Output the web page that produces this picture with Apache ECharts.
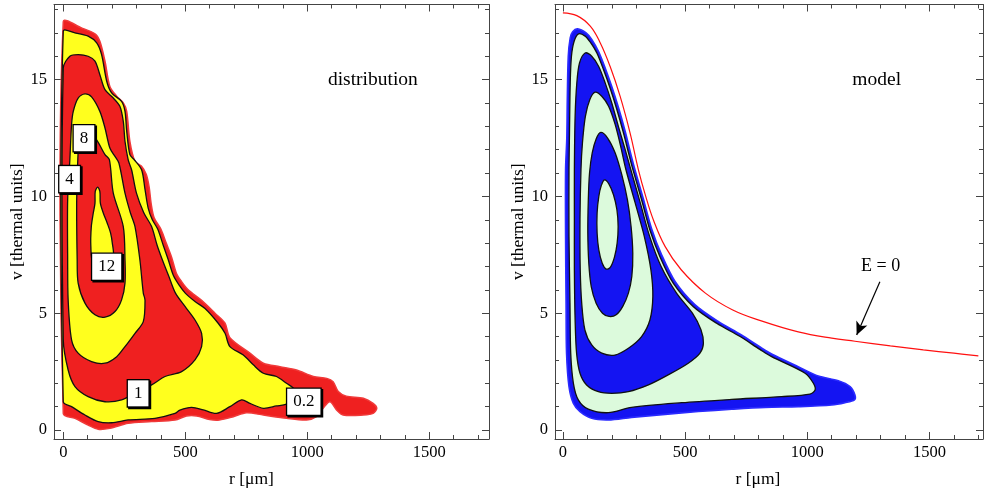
<!DOCTYPE html>
<html><head><meta charset="utf-8">
<script src="https://cdn.jsdelivr.net/npm/echarts@6/dist/echarts.min.js"></script>
<style>html,body{margin:0;padding:0;background:#fff}#c{width:984px;height:496px}</style>
</head><body><div id="c"></div>
<script>
// ---------- tick values ----------
const rTicks = [0, 500, 1000, 1500];
const rMinor = [100, 200, 300, 400, 600, 700, 800, 900, 1100, 1200, 1300, 1400, 1600, 1700];
const vTicks = [0, 5, 10, 15];
const vMinor = [1, 2, 3, 4, 6, 7, 8, 9, 11, 12, 13, 14, 16, 17, 18];

// ---------- left panel: measured distribution contours [r (µm), v] ----------
const distOuter = [[0,17.47],[75,17.21],[130,16.96],[150,16.64],[171,15.79],[191,14.71],[219,14.29],[246,14.0],[260,13.64],[273,12.36],[294,11.5],[320,11.3],[340,10.95],[352,10.4],[360,9.7],[372,9.1],[400,8.6],[422,8.0],[444,7.4],[464,6.7],[485,6.35],[512,6.0],[567,5.55],[622,5.0],[663,4.57],[683,3.95],[765,3.29],[820,2.86],[888,2.71],[956,2.57],[1025,2.29],[1080,2.21],[1106,2.07],[1127,1.65],[1160,1.45],[1230,1.36],[1270,1.14],[1285,0.93],[1270,0.71],[1230,0.64],[1147,0.64],[1120,0.86],[1093,1.21],[1065,0.93],[1038,0.57],[997,0.43],[915,0.5],[820,0.64],[751,0.74],[697,0.57],[640,0.43],[600,0.45],[547,0.6],[505,0.6],[458,0.43],[362,0.36],[266,0.29],[191,0.07],[143,0.03],[102,0.21],[48,0.5],[0,0.71]];
const dist02 = [[0,17.07],[48,17.0],[102,16.86],[137,16.57],[157,16.07],[178,14.93],[198,14.43],[239,14.07],[253,13.64],[260,12.79],[273,11.79],[291,11.57],[321,11.14],[335,10.3],[348,9.5],[365,9.0],[387,8.6],[410,7.9],[430,7.3],[452,6.6],[475,6.2],[500,5.86],[540,5.5],[581,5.2],[635,4.57],[663,4.14],[683,3.57],[738,3.21],[779,2.79],[820,2.43],[874,2.29],[915,2.0],[943,1.79],[956,1.43],[915,1.11],[874,1.03],[820,0.93],[765,1.14],[731,1.29],[683,1.0],[628,0.71],[574,0.86],[526,0.97],[478,0.85],[458,0.71],[376,0.5],[266,0.43],[198,0.31],[143,0.36],[89,0.64],[34,1.0],[0,1.21]];
const dist1 = [[0,15.5],[27,16.0],[61,16.07],[102,16.0],[130,15.79],[150,15.21],[171,14.57],[205,14.21],[232,13.86],[246,13.21],[253,12.36],[266,11.57],[280,11.14],[300,10.14],[330,9.3],[362,8.71],[385,7.9],[406,7.29],[433,6.57],[460,5.86],[499,5.29],[540,4.71],[567,4.14],[567,3.57],[540,3.0],[485,2.5],[417,2.29],[362,1.93],[307,1.64],[239,1.29],[171,1.21],[102,1.43],[48,1.86],[20,2.57],[0,3.86]];
const dist4 = [[89,14.39],[116,14.26],[150,13.64],[171,12.93],[191,12.07],[212,11.71],[228,11.43],[253,10.14],[275,9.3],[294,8.71],[314,7.29],[328,5.86],[335,5.57],[328,4.64],[294,4.14],[253,3.57],[219,3.14],[171,2.86],[116,2.93],[61,3.29],[34,3.86],[20,5.57],[18,7.29],[18,9.86],[27,11.57],[34,13.07],[41,13.64],[61,14.21]];
const dist8 = [[82,12.71],[130,12.5],[171,11.79],[189,11.57],[205,10.14],[246,8.71],[253,7.29],[253,6.29],[239,5.57],[212,5.07],[171,4.83],[130,4.93],[89,5.43],[61,6.29],[57,7.29],[55,9.86],[61,11.93],[68,12.43]];
const dist12 = [[141,10.4],[150,10.21],[152,9.71],[164,9.29],[180,8.86],[194,8.43],[201,8.0],[205,7.43],[178,7.0],[123,7.14],[113,7.86],[115,8.71],[123,9.29],[130,9.71],[131,10.21]];
const distLevelLabels = ['8', '4', '12', '1', '0.2'];
const distLevelAt = [[85,12.49],[26,10.74],[178,6.99],[307,1.57],[986,1.21]];

// ---------- right panel: model contours ----------
const modelOuter = [[40,17.05],[60,17.17],[95,17.0],[118,16.72],[146,16.2],[173,15.5],[200,14.7],[228,13.78],[255,12.78],[277,11.85],[292,11.25],[329,9.9],[363,8.62],[404,7.5],[459,6.36],[540,5.37],[634,4.66],[729,4.08],[810,3.53],[856,3.24],[963,2.71],[1045,2.31],[1127,2.11],[1175,1.86],[1195,1.5],[1193,1.29],[1154,1.17],[1100,1.07],[963,1.0],[827,0.97],[691,0.89],[554,0.79],[418,0.67],[281,0.54],[186,0.43],[118,0.5],[70,0.79],[43,1.14],[25,1.86],[15,3.29],[13,5.43],[11,8.29],[11,11.14],[16,12.5],[18,14.14],[22,16.0],[30,16.79]];
const model1 = [[64,16.96],[91,16.86],[112,16.6],[139,16.14],[166,15.43],[193,14.64],[221,13.71],[248,12.71],[270,11.8],[285,11.2],[322,9.85],[356,8.56],[397,7.42],[452,6.28],[534,5.28],[629,4.57],[725,4.0],[806,3.45],[854,3.14],[991,2.43],[1025,2.0],[1032,1.71],[1011,1.54],[895,1.43],[691,1.31],[486,1.17],[281,0.97],[186,0.74],[104,0.89],[63,1.29],[43,2.0],[32,3.29],[29,5.43],[25,8.29],[25,11.14],[27,12.71],[30,14.86],[35,16.0],[46,16.64]];
const model2 = [[91,16.14],[118,16.0],[146,15.57],[173,14.86],[200,14.0],[227,13.0],[255,12.0],[278,11.14],[317,9.71],[355,8.29],[402,7.0],[465,5.86],[530,5.0],[565,4.29],[575,3.71],[561,3.29],[513,2.86],[431,2.36],[350,1.93],[268,1.64],[200,1.57],[145,1.64],[97,1.93],[70,2.43],[56,3.29],[50,4.71],[47,6.86],[47,9.0],[47,11.14],[50,13.43],[57,14.86],[68,15.71]];
const model3 = [[132,14.46],[159,14.29],[187,13.86],[214,13.07],[238,12.07],[258,11.14],[296,9.71],[333,8.29],[360,6.86],[368,5.71],[356,4.71],[322,4.0],[268,3.5],[213,3.21],[159,3.29],[118,3.64],[90,4.29],[77,5.43],[71,6.86],[70,9.0],[74,11.14],[80,12.29],[92,13.43],[110,14.14]];
const model4 = [[155,12.74],[183,12.5],[214,11.86],[241,10.93],[264,9.86],[279,8.71],[286,7.57],[282,6.57],[268,5.86],[245,5.29],[218,4.93],[189,4.86],[162,5.0],[136,5.43],[116,6.14],[106,7.14],[102,8.43],[104,9.86],[109,11.0],[120,11.86],[136,12.46]];
const model5 = [[170,10.71],[188,10.54],[207,10.07],[221,9.43],[226,8.71],[222,8.0],[211,7.4],[194,6.96],[177,6.89],[161,7.14],[147,7.71],[140,8.43],[140,9.29],[147,10.0],[157,10.46]];
// E = 0 curve
const eZero = [[0,17.86],[57,17.74],[112,17.29],[153,16.57],[193,15.57],[234,14.29],[275,12.71],[309,11.14],[339,10.0],[370,9.0],[418,7.86],[484,6.86],[583,5.86],[695,5.14],[815,4.66],[963,4.2],[1100,3.93],[1195,3.8],[1340,3.6],[1475,3.43],[1600,3.29],[1700,3.17]];
const eZeroLabel = 'E = 0';
const eZeroLabelAt = [1300, 6.99];
const eZeroArrow = [[1297, 6.35], [1202, 4.07]];
const panelTitles = ['distribution', 'model'];
const panelTitleAt = [[1269, 14.98], [1284, 14.98]];

// ---------- styles ----------
const SERIF = "'Liberation Serif','DejaVu Serif',serif";
const FRAME = '#444';
const RED = '#ef2020', YEL = '#ffff1e', BLUE = '#1414f2', GREEN = '#dcfadc';

const chart = echarts.init(document.getElementById('c'), null, {renderer: 'canvas'});
const plainNum = v => String(v);

function xAxes(grid, min, max, pad) {
  const base = {type: 'value', gridIndex: grid, min, max, splitLine: {show: false}};
  return [
    Object.assign({}, base, {position: 'bottom',
      axisLine: {show: true, onZero: false, lineStyle: {color: FRAME, width: 1}},
      axisTick: {show: true, inside: true, length: 7, customValues: rTicks, lineStyle: {color: FRAME}},
      axisLabel: {show: true, customValues: rTicks, formatter: plainNum, margin: 5, fontSize: 16.5, fontFamily: SERIF, color: '#000'},
      name: 'r [\u03bcm]', nameLocation: 'middle', nameGap: 31,
      nameTextStyle: {fontSize: 17.5, fontFamily: SERIF, color: '#000', padding: [0, pad, 0, 0]}}),
    Object.assign({}, base, {position: 'bottom', axisLine: {show: false, onZero: false},
      axisTick: {show: true, inside: true, length: 4, customValues: rMinor, lineStyle: {color: FRAME}},
      axisLabel: {show: false}}),
    Object.assign({}, base, {position: 'top',
      axisLine: {show: true, onZero: false, lineStyle: {color: FRAME, width: 1}},
      axisTick: {show: true, inside: true, length: 7, customValues: rTicks, lineStyle: {color: FRAME}},
      axisLabel: {show: false}}),
    Object.assign({}, base, {position: 'top', axisLine: {show: false, onZero: false},
      axisTick: {show: true, inside: true, length: 4, customValues: rMinor, lineStyle: {color: FRAME}},
      axisLabel: {show: false}})
  ];
}
function yAxes(grid) {
  const base = {type: 'value', gridIndex: grid, min: -0.385, max: 18.215, splitLine: {show: false}};
  return [
    Object.assign({}, base, {position: 'left',
      axisLine: {show: true, onZero: false, lineStyle: {color: FRAME, width: 1}},
      axisTick: {show: true, inside: true, length: 7, customValues: vTicks, lineStyle: {color: FRAME}},
      axisLabel: {show: true, customValues: vTicks, formatter: plainNum, margin: 7, fontSize: 16.5, fontFamily: SERIF, color: '#000'},
      name: 'v [thermal units]', nameLocation: 'middle', nameRotate: 90, nameGap: 27,
      nameTextStyle: {fontSize: 17.5, fontFamily: SERIF, color: '#000'}}),
    Object.assign({}, base, {position: 'left', axisLine: {show: false, onZero: false},
      axisTick: {show: true, inside: true, length: 4, customValues: vMinor, lineStyle: {color: FRAME}},
      axisLabel: {show: false}}),
    Object.assign({}, base, {position: 'right',
      axisLine: {show: true, onZero: false, lineStyle: {color: FRAME, width: 1}},
      axisTick: {show: true, inside: true, length: 7, customValues: vTicks, lineStyle: {color: FRAME}},
      axisLabel: {show: false}}),
    Object.assign({}, base, {position: 'right', axisLine: {show: false, onZero: false},
      axisTick: {show: true, inside: true, length: 4, customValues: vMinor, lineStyle: {color: FRAME}},
      axisLabel: {show: false}})
  ];
}

function polySeries(xi, yi, layers) {
  return {
    type: 'custom', coordinateSystem: 'cartesian2d', xAxisIndex: xi, yAxisIndex: yi,
    silent: true, clip: true, z: 2,
    data: layers.map((l, i) => [l.pts[0][0], l.pts[0][1], i]),
    encode: {x: 0, y: 1},
    renderItem: function (params, api) {
      const l = layers[api.value(2)];
      return {
        type: 'polygon',
        shape: {points: l.pts.map(p => api.coord(p)), smooth: 0.3},
        style: {fill: l.fill, stroke: l.stroke, lineWidth: l.lw}
      };
    }
  };
}

const leftLayers = [
  {pts: distOuter, fill: RED, stroke: '#f03a3a', lw: 1.5},
  {pts: dist02, fill: YEL, stroke: '#111', lw: 1.3},
  {pts: dist1, fill: RED, stroke: '#111', lw: 1.3},
  {pts: dist4, fill: YEL, stroke: '#111', lw: 1.3},
  {pts: dist8, fill: RED, stroke: '#111', lw: 1.3},
  {pts: dist12, fill: YEL, stroke: '#111', lw: 1.3}
];
const rightLayers = [
  {pts: modelOuter, fill: BLUE, stroke: '#2a2aff', lw: 1.6},
  {pts: model1, fill: GREEN, stroke: '#111', lw: 1.3},
  {pts: model2, fill: BLUE, stroke: '#111', lw: 1.3},
  {pts: model3, fill: GREEN, stroke: '#111', lw: 1.3},
  {pts: model4, fill: BLUE, stroke: '#111', lw: 1.3},
  {pts: model5, fill: GREEN, stroke: '#111', lw: 1.3}
];

const boxLabel = {
  show: true, position: 'inside', fontSize: 17, fontFamily: SERIF, color: '#000',
  backgroundColor: '#ffffff', borderColor: '#000', borderWidth: 1.3,
  padding: [5, 6, 4, 6], lineHeight: 17,
  shadowColor: '#000', shadowOffsetX: 1.5, shadowOffsetY: 1.5, shadowBlur: 0,
  formatter: p => p.data[2]
};
const plainLabel = {show: true, position: 'inside', fontSize: 19.5, fontFamily: SERIF, color: '#000', formatter: p => p.data[2]};
const textItem = {opacity: 1, color: 'transparent'};

chart.setOption({
  animation: false,
  backgroundColor: '#fff',
  grid: [
    {left: 54, top: 4.5, width: 435, height: 434.5},
    {left: 555, top: 4.5, width: 428, height: 434.5}
  ],
  xAxis: [].concat(xAxes(0, -38, 1745, 40), xAxes(1, -32.3, 1719, 22)),
  yAxis: [].concat(yAxes(0), yAxes(1)),
  series: [
    polySeries(0, 0, leftLayers),
    polySeries(4, 4, rightLayers),
    {
      type: 'line', xAxisIndex: 4, yAxisIndex: 4, data: eZero, showSymbol: false, smooth: 0.4,
      lineStyle: {color: '#ff1010', width: 1.2}, silent: true, z: 3,
      markLine: {
        silent: true, symbol: ['none', 'arrow'], symbolSize: [9, 13],
        lineStyle: {color: '#000', width: 1.2, type: 'solid'}, label: {show: false},
        data: [[{coord: eZeroArrow[0]}, {coord: eZeroArrow[1]}]]
      }
    },
    {
      type: 'scatter', xAxisIndex: 0, yAxisIndex: 0, symbolSize: 0, silent: true, z: 6, itemStyle: textItem,
      data: distLevelAt.map((p, i) => [p[0], p[1], distLevelLabels[i]]), label: boxLabel
    },
    {
      type: 'scatter', xAxisIndex: 0, yAxisIndex: 0, symbolSize: 0, silent: true, z: 6, itemStyle: textItem,
      data: [[panelTitleAt[0][0], panelTitleAt[0][1], panelTitles[0]]], label: plainLabel
    },
    {
      type: 'scatter', xAxisIndex: 4, yAxisIndex: 4, symbolSize: 0, silent: true, z: 6, itemStyle: textItem,
      data: [[panelTitleAt[1][0], panelTitleAt[1][1], panelTitles[1]]], label: plainLabel
    },
    {
      type: 'scatter', xAxisIndex: 4, yAxisIndex: 4, symbolSize: 0, silent: true, z: 6, itemStyle: textItem,
      data: [[eZeroLabelAt[0], eZeroLabelAt[1], eZeroLabel]],
      label: Object.assign({}, plainLabel, {fontSize: 18})
    }
  ]
});
</script></body></html>
